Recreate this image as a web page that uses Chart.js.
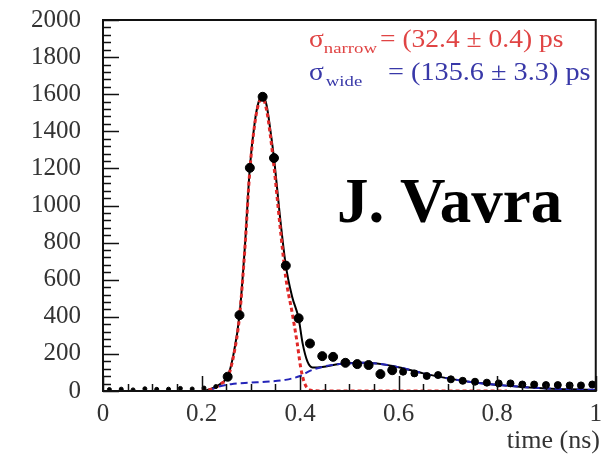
<!DOCTYPE html>
<html>
<head>
<meta charset="utf-8">
<script src="https://cdn.jsdelivr.net/npm/chart.js@4.4.0/dist/chart.umd.min.js"></script>
<style>
  body { margin: 0; background: #ffffff; }
  canvas { display: block; }
</style>
</head>
<body>
<canvas id="grafico" width="610" height="464"></canvas>
<script>
// measured points (bin centre in ns, counts)
const tempos = [0.013, 0.037, 0.061, 0.085, 0.109, 0.133, 0.157, 0.181, 0.205, 0.229,
  0.253, 0.277, 0.298, 0.324, 0.347, 0.371, 0.397, 0.420, 0.445, 0.467,
  0.492, 0.516, 0.539, 0.563, 0.587, 0.609, 0.632, 0.657, 0.680, 0.706,
  0.730, 0.755, 0.779, 0.803, 0.827, 0.851, 0.875, 0.899, 0.923, 0.947,
  0.970, 0.993];
const contagens = [8, 10, 6, 12, 9, 10, 14, 11, 16, 24,
  77, 409, 1203, 1586, 1256, 676, 392, 256, 188, 184,
  152, 145, 140, 91, 112, 104, 95, 81, 86, 63,
  55, 50, 45, 41, 41, 35, 35, 32, 32, 30,
  30, 35];

// total fit (black)
const tempoTotal = [0.20, 0.21, 0.22, 0.23, 0.24, 0.253, 0.265, 0.277, 0.288, 0.298,
  0.308, 0.316, 0.324, 0.332, 0.340, 0.347, 0.360, 0.371, 0.384, 0.397,
  0.405, 0.415, 0.425, 0.445, 0.480, 0.530, 0.590, 0.650, 0.700, 0.750,
  0.800, 0.850, 0.900, 0.950, 1.000];
const ajusteTotal = [0, 4, 12, 25, 42, 77, 200, 409, 780, 1203,
  1450, 1560, 1590, 1540, 1400, 1256, 920, 676, 507, 392,
  258, 158, 127, 130, 145, 152, 134, 95, 68, 47,
  33, 22, 14, 9, 6];

// narrow gaussian (red)
const tempoEstreito = [0.20, 0.21, 0.22, 0.23, 0.24, 0.253, 0.265, 0.277, 0.288, 0.298,
  0.308, 0.316, 0.324, 0.332, 0.340, 0.347, 0.360, 0.371, 0.384, 0.394,
  0.401, 0.408, 0.415, 0.425, 0.45, 0.60, 0.82];
const ajusteEstreito = [0, 3, 10, 22, 40, 72, 190, 400, 770, 1190,
  1440, 1550, 1575, 1515, 1370, 1210, 870, 610, 420, 260,
  130, 50, 15, 3, 0, 0, 0];

// wide gaussian (blue)
const tempoLargo = [0.215, 0.23, 0.26, 0.30, 0.33, 0.37, 0.40, 0.424, 0.452, 0.48,
  0.53, 0.59, 0.65, 0.70, 0.75, 0.80, 0.85, 0.90, 0.95, 1.00];
const ajusteLargo = [0, 20, 37, 45, 50, 60, 81, 113, 134, 145,
  152, 134, 95, 68, 47, 33, 22, 14, 9, 6];

const ticksX = [0, 0.2, 0.4, 0.6, 0.8, 1];

function pares(xs, ys) {
  return xs.map((x, i) => ({ x: x, y: ys[i] }));
}

const fonteSerif = '"Liberation Serif", "DejaVu Serif", serif';

// texto esticado na horizontal (a figura original e mais larga)
function escreve(ctx, txt, x, y, tamanho, esticar) {
  ctx.save();
  ctx.font = tamanho + 'px ' + fonteSerif;
  ctx.translate(x, y);
  ctx.scale(esticar, 1);
  ctx.fillText(txt, 0, 0);
  const w = ctx.measureText(txt).width * esticar;
  ctx.restore();
  return w;
}

const molduraPlugin = {
  id: 'moldura',
  afterDatasetsDraw(chart) {
    const { ctx, chartArea: a, scales } = chart;
    const sx = scales.x, sy = scales.y;
    ctx.save();
    ctx.strokeStyle = '#111';
    ctx.lineWidth = 2;
    ctx.strokeRect(a.left, a.top, a.right - a.left, a.bottom - a.top);
    ctx.lineWidth = 1.5;
    ctx.beginPath();
    for (let v = 0; v <= 2000; v += 40) {
      const y = Math.round(sy.getPixelForValue(v)) + 0.5;
      const len = v % 200 === 0 ? 16 : 8;
      ctx.moveTo(a.left, y);
      ctx.lineTo(a.left + len, y);
    }
    for (let i = 0; i <= 20; i++) {
      const t = i * 0.05;
      const x = Math.round(sx.getPixelForValue(t)) + 0.5;
      const len = i % 4 === 0 ? 15 : 7;
      ctx.moveTo(x, a.bottom);
      ctx.lineTo(x, a.bottom - len);
    }
    ctx.stroke();
    ctx.restore();
  },
  afterDraw(chart) {
    const { ctx } = chart;
    ctx.save();
    ctx.textBaseline = 'alphabetic';
    ctx.textAlign = 'left';

    // sigma narrow
    ctx.fillStyle = '#e04444';
    let x = 309;
    x += escreve(ctx, 'σ', x, 47, 25, 1.1);
    escreve(ctx, 'narrow', x, 53, 15, 1.25);
    escreve(ctx, '= (32.4 ± 0.4) ps', 380, 47, 25, 1.1);

    // sigma wide
    ctx.fillStyle = '#3838a8';
    x = 309;
    x += escreve(ctx, 'σ', x, 80, 25, 1.1);
    escreve(ctx, 'wide', x + 2, 86, 15, 1.25);
    escreve(ctx, '= (135.6 ± 3.3) ps', 388, 80, 25, 1.13);

    // author
    ctx.fillStyle = '#000';
    ctx.font = 'bold 63px ' + fonteSerif;
    ctx.fillText('J. Vavra', 337, 222);

    // axis title
    ctx.fillStyle = '#333';
    ctx.font = '26px ' + fonteSerif;
    ctx.textAlign = 'right';
    ctx.fillText('time (ns)', 600, 448);
    ctx.restore();
  }
};

const config = {
  type: 'scatter',
  data: {
    datasets: [
      {
        label: 'dados',
        data: pares(tempos, contagens),
        backgroundColor: '#000',
        borderColor: '#000',
        pointRadius: ctx => {
          const t = ctx.raw ? ctx.raw.x : 0.5;
          if (t < 0.24) return 2;
          if (t > 0.6) return 3.5;
          return 4.5;
        },
        pointHoverRadius: 0
      },
      {
        label: 'estreito',
        data: pares(tempoEstreito, ajusteEstreito),
        showLine: true,
        pointRadius: 0,
        borderColor: '#e02828',
        borderWidth: 3,
        borderDash: [4, 3],
        cubicInterpolationMode: 'monotone'
      },
      {
        label: 'largo',
        data: pares(tempoLargo, ajusteLargo),
        showLine: true,
        pointRadius: 0,
        borderColor: '#2424b8',
        borderWidth: 2,
        borderDash: [7, 4],
        cubicInterpolationMode: 'monotone'
      },
      {
        label: 'total',
        data: pares(tempoTotal, ajusteTotal),
        showLine: true,
        pointRadius: 0,
        borderColor: '#000',
        borderWidth: 2,
        cubicInterpolationMode: 'monotone'
      }
    ]
  },
  options: {
    responsive: false,
    devicePixelRatio: 1,
    animation: false,
    layout: { padding: { top: 20, right: 12, left: 0, bottom: 0 } },
    plugins: {
      legend: { display: false },
      tooltip: { enabled: false }
    },
    scales: {
      x: {
        type: 'linear',
        min: 0,
        max: 1,
        afterFit: s => { s.height = 73; },
        afterBuildTicks: s => { s.ticks = ticksX.map(v => ({ value: v })); },
        grid: { display: false, drawTicks: false },
        border: { display: false },
        ticks: {
          padding: 8,
          color: '#333',
          font: { family: fonteSerif, size: 25 },
          maxRotation: 0,
          callback: v => (v === 0 || v === 1) ? String(v) : v.toFixed(1)
        }
      },
      y: {
        type: 'linear',
        min: 0,
        max: 2000,
        afterFit: s => {
          s.width = 103;
          s.paddingTop = 0;
          s.paddingBottom = 0;
        },
        grid: { display: false, drawTicks: false },
        border: { display: false },
        ticks: {
          stepSize: 200,
          padding: 22,
          color: '#333',
          font: { family: fonteSerif, size: 25 },
          callback: v => String(v)
        }
      }
    }
  },
  plugins: [molduraPlugin]
};

new Chart(document.getElementById('grafico'), config);
</script>
</body>
</html>
